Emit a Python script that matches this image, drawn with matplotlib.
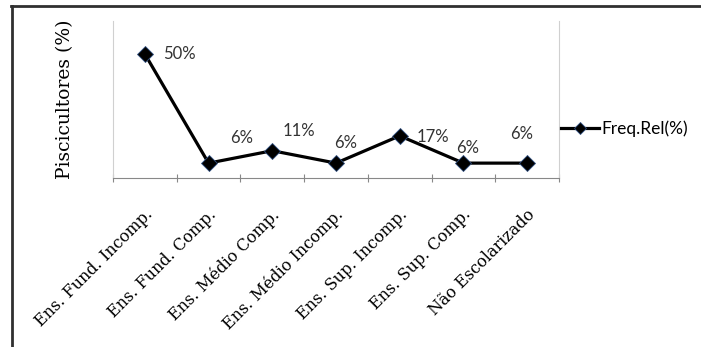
import numpy as np
import matplotlib.pyplot as plt
from matplotlib.transforms import ScaledTranslation
from matplotlib.lines import Line2D

# data
categorias = ['Ens. Fund. Incomp.', 'Ens. Fund. Comp.', 'Ens. Médio Comp.',
              'Ens. Médio Incomp.', 'Ens. Sup. Incomp.', 'Ens. Sup. Comp.',
              'Não Escolarizado']
freq_rel = [50, 6, 11, 6, 17, 6, 6]
rotulos = ['50%', '6%', '11%', '6%', '17%', '6%', '6%']

# label offsets in pixels (left edge, vertical) relative to each point
label_off = [(18, 0), (22, 25), (10, 20), (-2, 20), (17, -1), (-7, 15), (-17, 29)]

W, H = 701, 347
fig = plt.figure(figsize=(W / 100, H / 100), dpi=100)
ax = fig.add_axes([113 / W, 1 - 178 / H, (559 - 113) / W, (178 - 21) / H])

x = np.arange(len(categorias))
ax.plot(x, freq_rel, color='black', lw=2.3, marker='D', ms=8.5,
        mfc='black', mec='#2f4f80', mew=0.6, zorder=3)

for xi, yi, txt, (dx, dy) in zip(x, freq_rel, rotulos, label_off):
    ax.annotate(txt, (xi, yi), xytext=(dx * 0.72, dy * 0.72), textcoords='offset points',
                ha='left', va='center', fontsize=12, family='Lato', color='#333333')

ax.set_xlim(-0.5, len(categorias) - 0.5)
ax.set_ylim(0, 63.3)
ax.set_yticks([])

# category boundaries as tick marks
ax.set_xticks(np.arange(len(categorias) + 1) - 0.5, minor=True)
ax.tick_params(axis='x', which='minor', length=6, width=0.8, color='#888888', direction='inout')
ax.set_xticks(x)
ax.set_xticklabels(categorias, rotation=45, ha='right', va='center',
                   rotation_mode='anchor', fontsize=11.5, family='DejaVu Serif')
ax.tick_params(axis='x', which='major', length=0, pad=0)
shift = ScaledTranslation(0.05, -0.34, fig.dpi_scale_trans)
for lab in ax.get_xticklabels():
    lab.set_transform(lab.get_transform() + shift)

for side in ['left', 'right']:
    ax.spines[side].set_color('#d0d0d0')
    ax.spines[side].set_linewidth(0.8)
ax.spines['top'].set_visible(False)
ax.spines['bottom'].set_color('#888888')
ax.spines['bottom'].set_linewidth(0.8)

fig.text(65 / W, 1 - 99 / H, 'Piscicultores (%)', rotation=90, ha='center', va='center',
         family='DejaVu Serif', fontsize=13.5)

handle = Line2D([], [], color='black', lw=2.3, marker='D', ms=6.5,
                mfc='black', mec='#2f4f80', mew=0.6)
fig.legend([handle], ['Freq.Rel(%)'], loc='center left',
           bbox_to_anchor=(561 / W, 1 - 129 / H), frameon=False,
           prop={'family': 'Lato', 'size': 12.5}, handlelength=2.2,
           handletextpad=0.1, borderpad=0, borderaxespad=0)

# outer frame (cropped box)
fig.add_artist(Line2D([11 / W, 1], [1 - 6 / H, 1 - 6 / H], color='#303030', lw=2,
                      transform=fig.transFigure))
fig.add_artist(Line2D([12 / W, 12 / W], [0, 1 - 6 / H], color='#303030', lw=2,
                      transform=fig.transFigure))

plt.savefig('out.png', dpi=100)
